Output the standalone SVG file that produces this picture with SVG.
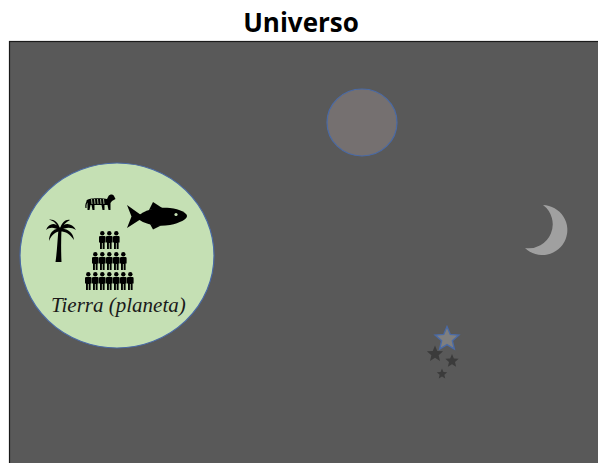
<svg xmlns="http://www.w3.org/2000/svg" xmlns:xlink="http://www.w3.org/1999/xlink" width="598" height="463" viewBox="0 0 598 463">
  <style>
    .title { font-family: "Open Sans", "Liberation Sans", sans-serif; font-weight: bold; font-size: 26px; fill: #000; }
    .label { font-family: "Liberation Serif", serif; font-style: italic; font-size: 21px; fill: #1a1a1a; }
    .ink { fill: #000; }
    .star-big { fill: #7f7f7f; stroke: #4a6aa5; stroke-width: 1.4; }
    .star-dark { fill: #3b3b3b; }
  </style>
  <defs>
    <!-- unit five-pointed star -->
    <path id="star" d="M0,-1 L0.2645,-0.364 L0.951,-0.309 L0.428,0.139 L0.588,0.809 L0,0.45 L-0.588,0.809 L-0.428,0.139 L-0.951,-0.309 L-0.2645,-0.364 Z" vector-effect="non-scaling-stroke"/>
    <!-- standing person pictogram, 7 x 18 -->
    <g id="person">
      <circle cx="3.3" cy="2.3" r="2.2"/>
      <path d="M1.1,5 H5.5 Q6.6,5 6.6,6.2 V11.5 H5.6 V18 H3.7 V12 H2.9 V18 H1 V11.5 H0 V6.2 Q0,5 1.1,5 Z"/>
    </g>
  </defs>

  <text class="title" x="301" y="32" text-anchor="middle">Universo</text>

  <!-- space background -->
  <g id="universe">
    <rect x="9.5" y="41.5" width="600" height="430" fill="#595959" stroke="#1a1a1a" stroke-width="1.2"/>
  </g>

  <!-- grey planet -->
  <g id="planet">
    <ellipse cx="362" cy="122.5" rx="35" ry="33.5" fill="#757070" stroke="#4a6aa5" stroke-width="1.2"/>
  </g>

  <!-- crescent moon -->
  <g id="moon">
    <path d="M543,205 A25,25 0 1,1 525,248 A24,24 0 0,0 543,205 Z" fill="#a0a0a0"/>
  </g>

  <!-- star cluster -->
  <g id="stars">
    <use xlink:href="#star" class="star-big" transform="translate(447,339) scale(12.5)"/>
    <use xlink:href="#star" class="star-dark" transform="translate(435,354) scale(8.5)"/>
    <use xlink:href="#star" class="star-dark" transform="translate(452,361) scale(7)"/>
    <use xlink:href="#star" class="star-dark" transform="translate(442,374) scale(5.5)"/>
  </g>

  <!-- Earth with life on it -->
  <g id="earth">
    <ellipse cx="117" cy="255.5" rx="97" ry="92.5" fill="#c5e0b4" stroke="#4a6aa5" stroke-width="1.2"/>

    <!-- palm tree -->
    <g class="ink">
      <path d="M55.5,262 C57,252 57.5,240 58.5,229 L61.5,229 C61,240 61,252 61.5,262 Z"/>
      <path d="M60,228 C55,222 49,223 46,230 C50,227 54,227 60,230.5 Z"/>
      <path d="M60,229 C54,228 49,233 49,241 C52,234 56,231.5 60,231.5 Z"/>
      <path d="M60,228 C65,222 72,223 76,230 C71,227 66,227 60,230.5 Z"/>
      <path d="M60,229 C67,228 73,232 74,240 C70,234 66,231.5 60,231.5 Z"/>
      <path d="M60,228.5 C58,222 54,219 49,219.5 C54,221 57,224 58.5,229.5 Z"/>
      <path d="M60,228.5 C62,222 66,219 70,220 C66,222 63,225 61.5,229.5 Z"/>
    </g>

    <!-- tiger -->
    <g>
      <path class="ink" d="M88,199.5 C90,198 104,198 107,199 L108.5,196 C110,194 113,194 114,196 L115.5,199 L112,201 L110.5,203 L110.5,210 L108.5,210 L107.5,205 L104.5,205 L104.5,210 L102.5,210 L101.5,205 L94.5,205 L94.5,210 L92.5,210 L91.5,205 L90.5,205 L89.5,210 L87.5,210 L87.5,203 C86,202 86,200 88,199.5 Z"/>
      <path d="M88,201 C86,203 85.5,205 86,208" fill="none" stroke="#000" stroke-width="1.2"/>
      <g stroke="#c5e0b4" stroke-width="0.8">
        <line x1="91.5" y1="199" x2="92" y2="204"/>
        <line x1="94.5" y1="199" x2="95" y2="204"/>
        <line x1="97.5" y1="199" x2="98" y2="204"/>
        <line x1="100.5" y1="199" x2="101" y2="204"/>
        <line x1="103.5" y1="199" x2="104" y2="204"/>
      </g>
    </g>

    <!-- fish -->
    <g class="ink">
      <path d="M138,216 C146,209 158,207 170,208 C180,209 187,213 187,216 C187,219 180,223 170,225 C158,227 146,225 138,219 Z"/>
      <path d="M141,215 L127,205 L131.5,216.5 L127,228 L141,219 Z"/>
      <path d="M149,210 L153,202 L163,208.5 Z"/>
      <path d="M150,224 L153,229.5 L161,225.5 Z"/>
    </g>
    <circle cx="176" cy="214.5" r="1.6" fill="#c5e0b4"/>

    <!-- population pyramid -->
    <g class="ink">
      <use xlink:href="#person" x="99" y="231"/>
      <use xlink:href="#person" x="106" y="231"/>
      <use xlink:href="#person" x="113" y="231"/>

      <use xlink:href="#person" x="92" y="252"/>
      <use xlink:href="#person" x="99" y="252"/>
      <use xlink:href="#person" x="106" y="252"/>
      <use xlink:href="#person" x="113" y="252"/>
      <use xlink:href="#person" x="120" y="252"/>

      <use xlink:href="#person" x="85" y="272"/>
      <use xlink:href="#person" x="92" y="272"/>
      <use xlink:href="#person" x="99" y="272"/>
      <use xlink:href="#person" x="106" y="272"/>
      <use xlink:href="#person" x="113" y="272"/>
      <use xlink:href="#person" x="120" y="272"/>
      <use xlink:href="#person" x="127" y="272"/>
    </g>

    <text class="label" x="51" y="312">Tierra (planeta)</text>
  </g>

  <!-- no connectors in this figure -->
  <g id="connectors"/>
</svg>
